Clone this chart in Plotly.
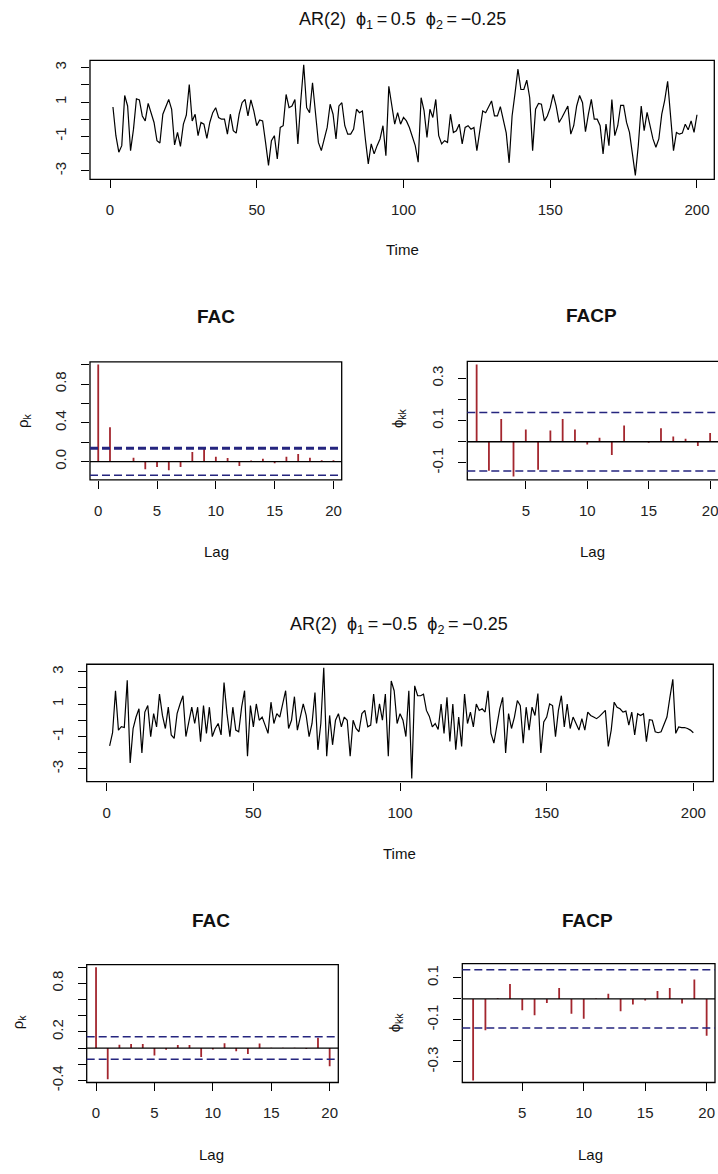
import plotly.graph_objects as go

# ---------------- data ----------------
TIME = list(range(1, 201))

SERIES_1 = [
    0.71, -0.96, -1.92, -1.54, 1.38, 0.77, -1.83, -0.58, 1.19, 1.12,
    0.19, -0.10, 0.92, 0.38, -0.19, -1.25, -1.38, 0.29, 0.77, 1.15,
    0.58, -1.50, -0.77, -1.58, -0.29, 0.23, 2.02, -0.10, 0.29, -0.96,
    -0.19, -0.29, -1.12, -0.19, 0.38, 0.67, 0.10, 0.00, 0.00, -0.87,
    0.29, -0.67, -0.81, 0.29, 0.96, 1.15, 0.19, 1.12, 0.48, -0.38,
    -0.04, -0.10, -1.35, -2.69, -1.25, -0.96, -2.31, -0.48, -0.38, 1.44,
    0.67, 0.77, 1.15, -1.44, 1.06, 3.17, 0.67, 0.38, 2.12, 0.38,
    -1.35, -1.83, -1.06, -0.48, 0.87, 0.29, -1.15, 0.77, 0.96, -0.38,
    -0.87, -0.87, -0.58, 0.58, 0.38, 0.48, -1.15, -2.60, -1.44, -2.02,
    -1.54, -1.15, -0.38, -2.12, 1.92, 0.77, -0.29, 0.38, -0.29, 0.10,
    -0.10, -0.48, -0.96, -1.54, -2.50, 1.25, 0.50, -1.06, 0.58, 0.10,
    1.15, -0.96, -1.44, -1.25, -1.35, 0.29, -0.77, -0.67, -0.29, -1.44,
    -0.48, -0.38, -0.58, -0.48, -1.83, -0.77, 0.48, 0.38, 0.70, 1.06,
    0.19, 0.19, 0.73, -0.10, -0.80, -2.54, 0.19, 1.50, 2.92, 1.73,
    1.73, 2.27, 1.25, -1.83, 0.58, 0.92, 0.87, -0.10, 0.19, 0.67,
    1.44, 0.77, -0.19, 0.10, 0.48, 0.77, -0.87, -0.38, 0.77, 1.38,
    0.96, -0.73, 0.29, 1.15, 0.00, 0.00, -0.38, -2.02, -0.29, -1.54,
    1.15, -0.96, -0.38, 0.81, 0.81, -0.19, -0.77, -2.12, -3.27, -1.54,
    0.77, -0.67, 0.40, -0.38, -1.15, -1.63, -1.15, 0.29, 1.10, 2.21,
    0.19, -1.83, -0.77, -0.87, -0.81, -0.29, -0.62, -0.10, -0.77, 0.26,
]

SERIES_2 = [
    -1.58, -0.77, 1.83, -0.61, -0.40, -0.45, 2.47, -2.64, -0.51, 0.20,
    0.71, -2.03, 0.51, 0.91, -1.01, 0.41, -0.41, 1.62, 0.30, -0.51,
    0.81, -0.91, -1.12, 0.41, 1.01, 1.52, -1.01, -0.20, 0.81, -0.20,
    0.81, -1.32, 0.91, -0.81, 0.81, -1.01, -0.51, -0.20, -0.91, 2.33,
    0.41, -1.01, 0.81, -0.61, -0.71, 0.81, 1.83, -2.23, 0.91, -0.41,
    1.01, 0.00, 0.20, -0.30, -0.81, 1.12, -0.20, 0.41, 0.20, 1.01,
    1.83, -0.51, 0.00, 1.46, -0.61, 0.20, 1.01, 0.30, -1.01, -0.20,
    1.72, -1.83, -0.20, 3.25, -2.23, 0.30, -1.52, 0.00, 0.41, -0.41,
    0.20, 0.00, -2.23, 0.00, -0.51, -0.71, 0.41, 0.61, -0.41, -0.30,
    1.62, -0.20, 1.01, 0.00, 1.62, -2.23, 2.43, 1.83, -0.20, 0.41,
    0.00, -1.01, 1.83, -3.61, 2.13, 1.52, 1.52, 1.62, 0.61, 0.24,
    -0.41, -0.20, -0.57, 1.01, -0.81, 1.42, -1.32, 1.01, -1.83, 0.20,
    -1.62, 1.62, -0.20, 0.51, -0.41, 1.01, 0.61, 0.71, 0.51, 1.83,
    -0.81, -1.42, -0.20, 0.71, 1.42, -2.03, 0.41, -0.51, 0.20, 1.22,
    0.91, -1.42, 0.81, -0.61, 0.81, 0.30, 1.66, -2.03, -0.10, 0.20,
    1.01, 0.91, -1.01, 0.61, 1.52, -0.41, 1.01, -0.51, 0.20, -0.20,
    -0.61, 0.10, -0.61, 0.51, 0.30, 0.20, 0.10, 0.24, 0.45, 0.61,
    -1.62, -0.61, 1.12, 0.81, 0.71, 0.51, 0.57, -0.30, 0.51, -0.91,
    0.41, 0.30, 0.41, -1.32, 0.04, 0.00, -0.71, -0.77, -0.71, -0.20,
    0.20, 1.42, 2.54, -0.81, -0.41, -0.45, -0.45, -0.51, -0.61, -0.77,
]

ACF_LAGS = list(range(0, 21))
PACF_LAGS = list(range(1, 21))

ACF_1 = [1.0, 0.354, 0.004, 0.04, -0.078, -0.054, -0.088, -0.054, 0.10, 0.136,
         0.05, 0.037, -0.044, 0.012, 0.03, -0.017, 0.05, 0.08, 0.04, 0.014, 0.014]
PACF_1 = [0.366, -0.1375, 0.108, -0.164, 0.058, -0.133, 0.053, 0.108, 0.058, -0.0125,
          0.019, -0.0625, 0.077, 0.002, -0.005, 0.064, 0.025, 0.014, -0.02, 0.042]

ACF_2 = [1.0, -0.384, 0.04, 0.05, 0.05, -0.09, -0.02, 0.037, 0.037, -0.11,
         -0.016, 0.06, -0.04, -0.073, 0.057, 0.003, 0.003, 0.003, -0.012, 0.127, -0.224]
PACF_2 = [-0.389, -0.149, 0.003, 0.071, -0.054, -0.078, -0.019, 0.052, -0.071, -0.094,
          0.002, 0.025, -0.059, -0.027, -0.008, 0.037, 0.052, -0.022, 0.092, -0.175]

CI_BOUND = 0.139

TITLE_1 = "AR(2)\u00a0\u00a0ϕ<sub>1</sub>\u2009=\u20090.5\u00a0\u00a0ϕ<sub>2</sub>\u2009=\u2009\u22120.25"
TITLE_2 = "AR(2)\u00a0\u00a0ϕ<sub>1</sub>\u2009=\u2009\u22120.5\u00a0\u00a0ϕ<sub>2</sub>\u2009=\u2009\u22120.25"

# ---------------- layout helpers ----------------
W, H = 718, 1174
FONT = "Liberation Sans, Arial, Helvetica, sans-serif"
STICK = "#a3262e"
CI_COL = "#25257f"


def px_x(a, b):
    return [a / W, min(b / W, 1.0)]


def px_y(top, bottom):
    return [1 - bottom / H, 1 - top / H]


fig = go.Figure()

panels = [
    dict(x=px_x(90, 714.3), y=px_y(59, 179), xr=[-6.82, 205.9], yr=[-3.50, 3.42],
         xt=[0, 50, 100, 150, 200], yt=[-3, -2, -1, 0, 1, 2, 3],
         ytt=["-3", " ", "-1", " ", "1", " ", "3"], right=1.0),
    dict(x=px_x(90, 341.7), y=px_y(363.3, 482.3), xr=[-0.7, 20.7], yr=[-0.187, 1.028],
         xt=[0, 5, 10, 15, 20], yt=[0, 0.2, 0.4, 0.6, 0.8, 1.0],
         ytt=["0.0", " ", "0.4", " ", "0.8", " "], right=1.0),
    dict(x=px_x(467.3, 718), y=px_y(362.7, 482.3), xr=[0.24, 20.64], yr=[-0.18, 0.381],
         xt=[5, 10, 15, 20], yt=[-0.1, 0, 0.1, 0.2, 0.3],
         ytt=["-0.1", " ", "0.1", " ", "0.3"], right=1.01),
    dict(x=px_x(86.7, 713.3), y=px_y(668.5, 787), xr=[-6.82, 206.8], yr=[-3.80, 3.47],
         xt=[0, 50, 100, 150, 200], yt=[-3, -2, -1, 0, 1, 2, 3],
         ytt=["-3", " ", "-1", " ", "1", " ", "3"], right=1.0),
    dict(x=px_x(86.7, 338.3), y=px_y(971.7, 1090.7), xr=[-0.8, 20.74], yr=[-0.425, 1.032],
         xt=[0, 5, 10, 15, 20], yt=[-0.4, -0.2, 0, 0.2, 0.4, 0.6, 0.8, 1.0],
         ytt=["-0.4", " ", " ", "0.2", " ", " ", "0.8", " "], right=1.0),
    dict(x=px_x(462.3, 715), y=px_y(970.7, 1090.7), xr=[0.12, 20.68], yr=[-0.398, 0.168],
         xt=[5, 10, 15, 20], yt=[-0.3, -0.2, -0.1, 0, 0.1],
         ytt=["-0.3", " ", "-0.1", " ", "0.1"], right=1.0),
]

layout = dict(
    width=W, height=H, margin=dict(l=0, r=0, t=0, b=0),
    paper_bgcolor="white", plot_bgcolor="white", showlegend=False,
    font=dict(family=FONT, color="black", size=15),
)
shapes = []

for i, p in enumerate(panels, start=1):
    xa = "xaxis" if i == 1 else f"xaxis{i}"
    ya = "yaxis" if i == 1 else f"yaxis{i}"
    xref = "x" if i == 1 else f"x{i}"
    yref = "y" if i == 1 else f"y{i}"
    layout[xa] = dict(
        domain=p["x"], range=p["xr"], anchor=yref, showgrid=False, zeroline=False,
        showline=False, ticks="outside", ticklen=8, tickwidth=1.2, tickcolor="black",
        tickvals=p["xt"], ticktext=[str(v) for v in p["xt"]],
        tickfont=dict(size=15, family=FONT, color="#222"), ticklabelstandoff=9,
        ticklabeloverflow="allow", fixedrange=True,
    )
    layout[ya] = dict(
        domain=p["y"], range=p["yr"], anchor=xref, showgrid=False, zeroline=False,
        showline=False, ticks="outside", ticklen=8, tickwidth=1.2, tickcolor="black",
        tickvals=p["yt"], ticktext=p["ytt"], tickangle=-90,
        tickfont=dict(size=15, family=FONT, color="#222"), ticklabelstandoff=9,
        fixedrange=True,
    )
    shapes.append(dict(type="rect", xref=f"{xref} domain", yref=f"{yref} domain",
                       x0=0, x1=p["right"], y0=0, y1=1,
                       line=dict(color="black", width=1.3), layer="above"))


def sticks(lags, vals, xref, yref):
    xs, ys = [], []
    for k, v in zip(lags, vals):
        xs += [k, k, None]
        ys += [0, v, None]
    fig.add_trace(go.Scatter(x=xs, y=ys, mode="lines", xaxis=xref, yaxis=yref,
                             line=dict(color=STICK, width=1.8), hoverinfo="skip"))


# time series
fig.add_trace(go.Scatter(x=TIME, y=SERIES_1, mode="lines", xaxis="x", yaxis="y",
                         line=dict(color="black", width=1.2)))
fig.add_trace(go.Scatter(x=TIME, y=SERIES_2, mode="lines", xaxis="x4", yaxis="y4",
                         line=dict(color="black", width=1.2)))

# correlograms
sticks(ACF_LAGS, ACF_1, "x2", "y2")
sticks(PACF_LAGS, PACF_1, "x3", "y3")
sticks(ACF_LAGS, ACF_2, "x5", "y5")
sticks(PACF_LAGS, PACF_2, "x6", "y6")

for idx, upper_w in [(2, 3.0), (3, 1.5), (5, 1.5), (6, 1.5)]:
    xr = f"x{idx} domain"
    yr = f"y{idx}"
    right = panels[idx - 1]["right"]
    shapes.append(dict(type="line", xref=xr, yref=yr, x0=0, x1=right, y0=0, y1=0,
                       line=dict(color="black", width=1.4)))
    shapes.append(dict(type="line", xref=xr, yref=yr, x0=0, x1=right,
                       y0=CI_BOUND, y1=CI_BOUND,
                       line=dict(color=CI_COL, width=upper_w, dash="8px,4px")))
    shapes.append(dict(type="line", xref=xr, yref=yr, x0=0, x1=right,
                       y0=-CI_BOUND, y1=-CI_BOUND,
                       line=dict(color=CI_COL, width=1.5, dash="8px,4px")))

layout["shapes"] = shapes


def ann(text, x, y, size, bold=False, angle=0):
    if bold:
        text = f"<b>{text}</b>"
    return dict(text=text, x=x / W, y=1 - y / H, xref="paper", yref="paper",
                showarrow=False, xanchor="center", yanchor="middle",
                textangle=angle, font=dict(size=size, family=FONT, color="#111"))


layout["annotations"] = [
    ann(TITLE_1, 402, 19, 18),
    ann("Time", 402, 250, 15),
    ann("FAC", 216, 317, 19, bold=True),
    ann("FACP", 591, 316, 19, bold=True),
    ann("Lag", 216, 555, 15),
    ann("Lag", 592, 555, 15),
    ann("ρ<sub>k</sub>", 23, 423, 15, angle=-90),
    ann("ϕ<sub>kk</sub>", 398, 420, 15, angle=-90),
    ann(TITLE_2, 399, 629, 18),
    ann("Time", 399, 860, 15),
    ann("FAC", 211, 927, 19, bold=True),
    ann("FACP", 587, 927, 19, bold=True),
    ann("Lag", 211, 1163, 15),
    ann("Lag", 590, 1163, 15),
    ann("ρ<sub>k</sub>", 18, 1030, 15, angle=-90),
    ann("ϕ<sub>kk</sub>", 395, 1030, 15, angle=-90),
]

fig.update_layout(**layout)
fig.write_html(
    "out.html",
    config={"displayModeBar": False},
    post_script="document.body.style.margin='0';document.body.style.overflow='hidden';",
)
